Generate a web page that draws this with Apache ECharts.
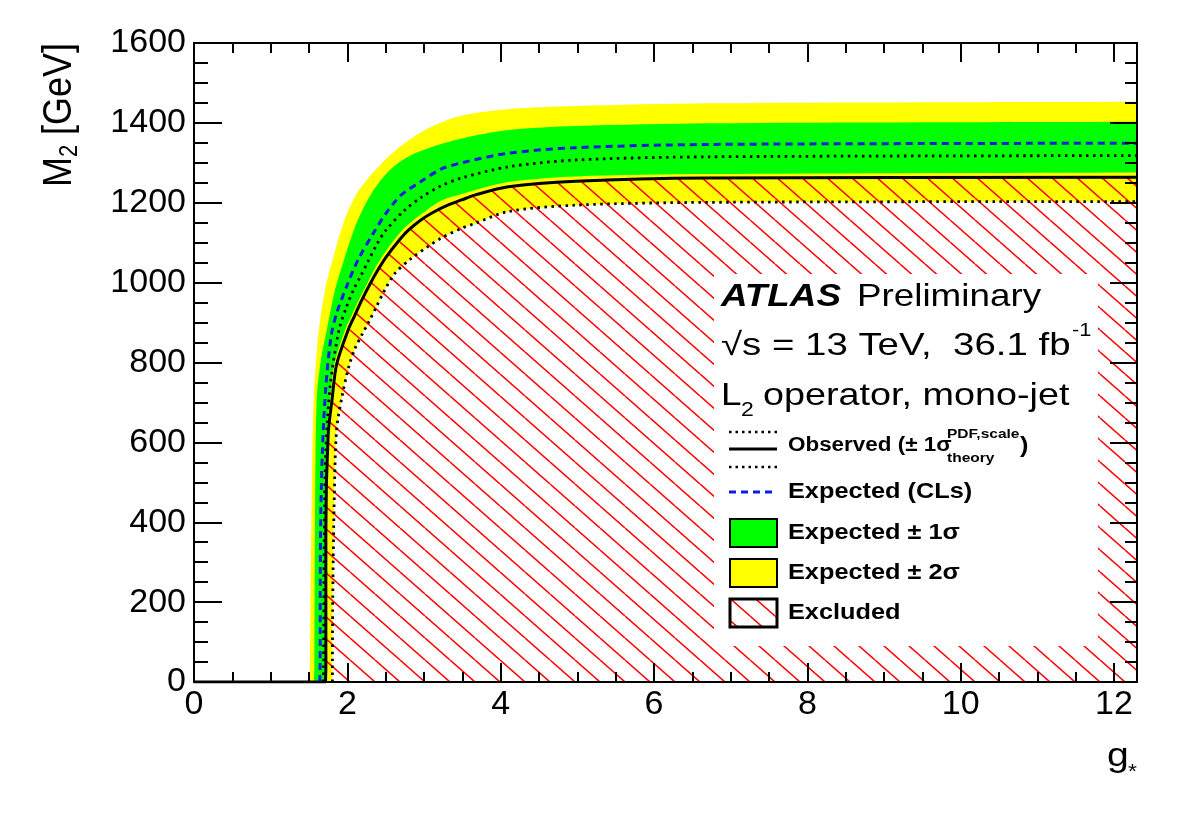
<!DOCTYPE html>
<html>

<head>
    <meta charset="utf-8">
    <title>L2 operator, mono-jet</title>
    <script src="https://cdn.jsdelivr.net/npm/echarts@6/dist/echarts.min.js"></script>
    <style>html, body { margin: 0; padding: 0; background: #fff; }</style>
</head>

<body>
    <div id="main" style="width: 1200px;height:815px;"></div>
    <script type="text/javascript">

    // axis ranges
    var xRange = [0, 12.3];
    var yRange = [0, 1600];

    // observed limit (solid)
    var obsG = [1.715, 1.72, 1.72, 1.75, 1.80, 1.86, 2.01, 2.10, 2.19, 2.30, 2.40, 2.51, 2.65, 2.79, 2.96, 3.14, 3.31, 3.49, 3.66, 4.10, 4.98, 6.70, 12.3];
    var obsM = [0, 40, 380, 620, 706, 795, 881, 919, 957, 998, 1032, 1065, 1100, 1130, 1157, 1178, 1194, 1207, 1219, 1240, 1254, 1262, 1264];
    // observed +1 sigma theory (dotted)
    var obsUpG = [1.685, 1.69, 1.70, 1.72, 1.78, 1.89, 1.99, 2.08, 2.17, 2.27, 2.38, 2.49, 2.74, 2.96, 3.22, 3.49, 4.10, 4.98, 6.70, 12.3];
    var obsUpM = [0, 40, 373, 581, 748, 880, 940, 982, 1015, 1053, 1094, 1128, 1180, 1213, 1242, 1262, 1290, 1307, 1315, 1318];
    // observed -1 sigma theory (dotted)
    var obsDnG = [1.805, 1.81, 1.83, 1.86, 1.93, 2.02, 2.10, 2.20, 2.27, 2.38, 2.49, 2.62, 2.83, 3.05, 3.22, 3.49, 3.66, 4.10, 4.98, 6.70, 12.3];
    var obsDnM = [0, 214, 464, 631, 714, 790, 835, 873, 898, 940, 982, 1023, 1060, 1090, 1111, 1136, 1148, 1178, 1194, 1201, 1203];
    // expected (dashed)
    var expG = [1.64, 1.645, 1.65, 1.675, 1.72, 1.79, 1.86, 1.99, 2.14, 2.34, 2.51, 2.70, 2.96, 3.22, 3.49, 4.10, 4.98, 6.70, 12.3];
    var expM = [0, 40, 370, 580, 740, 868, 923, 990, 1057, 1124, 1175, 1219, 1253, 1284, 1300, 1324, 1338, 1346, 1349];
    // expected +-1 sigma band edges
    var exp1UpG = [1.565, 1.57, 1.58, 1.60, 1.65, 1.73, 1.84, 1.97, 2.12, 2.32, 2.56, 2.80, 3.14, 3.49, 4.10, 4.98, 6.70, 12.3];
    var exp1UpM = [0, 38, 456, 706, 800, 880, 982, 1065, 1149, 1225, 1283, 1316, 1342, 1361, 1382, 1392, 1399, 1403];
    var exp1DnG = [1.705, 1.705, 1.71, 1.73, 1.775, 1.83, 1.97, 2.06, 2.15, 2.26, 2.36, 2.47, 2.61, 2.75, 2.92, 3.22, 3.49, 4.10, 4.98, 6.70, 12.3];
    var exp1DnM = [0, 40, 380, 620, 706, 795, 881, 919, 957, 998, 1036, 1070, 1107, 1138, 1165, 1205, 1222, 1252, 1266, 1272, 1276];
    // expected +-2 sigma band edges (lower edge sits on the -1 sigma theory line)
    var exp2UpG = [1.51, 1.52, 1.535, 1.56, 1.62, 1.71, 1.82, 1.95, 2.12, 2.43, 2.70, 3.05, 3.49, 4.10, 4.98, 6.70, 12.3];
    var exp2UpM = [0, 200, 456, 706, 865, 982, 1065, 1149, 1222, 1295, 1342, 1386, 1418, 1434, 1442, 1449, 1453];
    var exp2DnG = obsDnG;
    var exp2DnM = obsDnM;
    // flat part of the curves along M = 0
    var flatG = [0, 1.72];
    var flatM = [0, 0];

    var FONT = '"Liberation Sans", Arial, Helvetica, sans-serif';
    var SX = 1.15; // picture is stretched sideways

    function zip(g, m) {
        return g.map(function (v, i) { return [v, m[i]]; });
    }

    // hatch pattern for the excluded area
    var hatch = document.createElement('canvas');
    hatch.width = 25;
    hatch.height = 22;
    var hc = hatch.getContext('2d');
    hc.strokeStyle = '#ff0000';
    hc.lineWidth = 1.5;
    for (var k = -1; k <= 1; k++) {
        hc.beginPath();
        hc.moveTo(0, k * 22);
        hc.lineTo(25, 22 + k * 22);
        hc.stroke();
    }
    var hatchFill = { image: hatch, repeat: 'repeat' };

    // closed area between an upper and a lower curve, pushed past the frame so corners get clipped
    function areaSeries(upper, lower, fill) {
        return {
            type: 'custom',
            clip: true,
            silent: true,
            z: 2,
            data: [[0, 0]],
            renderItem: function (params, api) {
                var pts = [];
                pts.push(api.coord([upper[0][0], -40]));
                upper.forEach(function (p) { pts.push(api.coord(p)); });
                pts.push(api.coord([12.8, upper[upper.length - 1][1]]));
                pts.push(api.coord([12.8, lower[lower.length - 1][1]]));
                for (var i = lower.length - 1; i >= 0; i--) pts.push(api.coord(lower[i]));
                pts.push(api.coord([lower[0][0], -40]));
                return {
                    type: 'polygon',
                    shape: { points: pts, smooth: 0.3 },
                    style: { fill: fill, stroke: null }
                };
            }
        };
    }

    function lineSeries(data, color, width, dash) {
        return {
            type: 'line',
            data: data,
            z: 3,
            symbol: 'none',
            smooth: 0.3,
            silent: true,
            lineStyle: { color: color, width: width, type: dash || 'solid', cap: 'butt' }
        };
    }

    var obsLine = zip(obsG, obsM);
    var bottom = [[obsG[0], -40], [12.8, -40]];

    function txt(x, y, text, size, weight, style, extra) {
        var el = {
            type: 'text', x: x, y: y, z: 60, scaleX: SX, silent: true,
            style: {
                text: text,
                font: (style || 'normal') + ' ' + (weight || 'normal') + ' ' + size + 'px ' + FONT,
                fill: '#000',
                align: 'left', textAlign: 'left',
                verticalAlign: 'middle', textVerticalAlign: 'middle'
            }
        };
        if (extra) for (var key in extra) el[key] = extra[key];
        return el;
    }

    var myChart = echarts.init(document.getElementById('main'));

    var axisCommon = {
        type: 'value',
        z: 10,
        splitLine: { show: false },
        axisLine: { show: true, onZero: false, lineStyle: { color: '#000', width: 2 } }
    };
    function plain(v) { return String(v); }
    function xAx(pos, step, len, label) {
        return Object.assign({}, axisCommon, {
            position: pos, min: xRange[0], max: xRange[1], interval: step,
            axisTick: { show: true, inside: true, length: len, lineStyle: { color: '#000', width: 2 } },
            axisLabel: label ? { show: true, fontSize: 34, fontFamily: FONT, color: '#000', margin: 6, showMaxLabel: false, formatter: plain } : { show: false }
        });
    }
    function yAx(pos, len, minorLen, label) {
        return Object.assign({}, axisCommon, {
            position: pos, min: yRange[0], max: yRange[1], interval: 200,
            axisTick: { show: true, inside: true, length: len, lineStyle: { color: '#000', width: 2 } },
            minorTick: { show: true, splitNumber: 4, length: minorLen, lineStyle: { color: '#000', width: 2 } },
            axisLabel: label ? { show: true, fontSize: 34, fontFamily: FONT, color: '#000', margin: 8, formatter: plain } : { show: false }
        });
    }

    var option = {
        animation: false,
        backgroundColor: '#fff',
        grid: { left: 194, right: 63, top: 43, bottom: 133, containLabel: false, outerBoundsMode: 'none' },
        xAxis: [
            xAx('bottom', 2, 19, true),
            xAx('bottom', 0.5, 10, false),
            xAx('top', 2, 19, false),
            xAx('top', 0.5, 10, false)
        ],
        yAxis: [
            yAx('left', 28, 14, true),
            yAx('right', 27, 12, false)
        ],
        series: [
            areaSeries(zip(exp2UpG, exp2UpM), zip(exp2DnG, exp2DnM), '#ffff00'),
            areaSeries(zip(exp1UpG, exp1UpM), zip(exp1DnG, exp1DnM), '#00ff00'),
            areaSeries(obsLine, bottom, hatchFill),
            lineSeries(zip(flatG, flatM), '#000', 3),
            lineSeries(zip(expG, expM), '#0a1ee0', 3, [7, 5]),
            lineSeries(zip(obsUpG, obsUpM), '#000', 2.8, [2.5, 4.5]),
            lineSeries(zip(obsDnG, obsDnM), '#000', 2.8, [2.5, 4.5]),
            lineSeries(obsLine, '#000', 3)
        ],
        graphic: [
            // legend box
            { type: 'rect', z: 50, silent: true, shape: { x: 714, y: 274, width: 384, height: 372 }, style: { fill: '#fff', stroke: null } },
            txt(721, 297, 'ATLAS', 32, 'bold', 'italic'),
            txt(857, 297, 'Preliminary', 32),
            txt(721, 346, '\u221As = 13 TeV,  36.1 fb', 32, null, null, { scaleX: 1.2 }),
            txt(1072, 331, '-1', 19),
            txt(721, 396, 'L', 32),
            txt(741, 410, '2', 20),
            txt(763, 396, 'operator, mono-jet', 32, null, null, { scaleX: 1.18 }),

            { type: 'line', z: 60, silent: true, shape: { x1: 729, y1: 432, x2: 777, y2: 432 }, style: { stroke: '#000', lineWidth: 2.5, lineDash: [2.5, 4] } },
            { type: 'line', z: 60, silent: true, shape: { x1: 729, y1: 449, x2: 777, y2: 449 }, style: { stroke: '#000', lineWidth: 3 } },
            { type: 'line', z: 60, silent: true, shape: { x1: 729, y1: 467, x2: 777, y2: 467 }, style: { stroke: '#000', lineWidth: 2.5, lineDash: [2.5, 4] } },
            txt(788, 446, 'Observed (\u00B1 1\u03C3', 19.5, 'bold'),
            txt(947, 434, 'PDF,scale', 13.5, 'bold'),
            txt(947, 458, 'theory', 13.5, 'bold'),
            txt(1020, 446, ')', 22, 'bold'),

            { type: 'line', z: 60, silent: true, shape: { x1: 729, y1: 492, x2: 777, y2: 492 }, style: { stroke: '#0a1ee0', lineWidth: 3, lineDash: [7, 5] } },
            txt(788, 492, 'Expected (CLs)', 22, 'bold'),

            { type: 'rect', z: 60, silent: true, shape: { x: 730, y: 519, width: 47, height: 28 }, style: { fill: '#00ff00', stroke: '#000', lineWidth: 2 } },
            txt(788, 533, 'Expected \u00B1 1\u03C3', 22, 'bold'),

            { type: 'rect', z: 60, silent: true, shape: { x: 730, y: 559, width: 47, height: 28 }, style: { fill: '#ffff00', stroke: '#000', lineWidth: 2 } },
            txt(788, 573, 'Expected \u00B1 2\u03C3', 22, 'bold'),

            { type: 'rect', z: 60, silent: true, shape: { x: 730, y: 599, width: 47, height: 28 }, style: { fill: hatchFill, stroke: '#000', lineWidth: 3 } },
            txt(788, 613, 'Excluded', 22, 'bold'),

            // axis titles
            {
                type: 'group', x: 60, y: 187, rotation: Math.PI / 2, scaleY: SX, z: 60, silent: true,
                children: [
                    txt(0, 0, 'M', 36, null, null, { scaleX: 1 }),
                    txt(30, 9, '2', 22, null, null, { scaleX: 1 }),
                    txt(42, 0, ' [GeV]', 36, null, null, { scaleX: 1 })
                ]
            },
            txt(1107, 757, 'g', 34),
            txt(1128, 772, '*', 20)
        ]
    };

    myChart.setOption(option);
    </script>
</body>

</html>
